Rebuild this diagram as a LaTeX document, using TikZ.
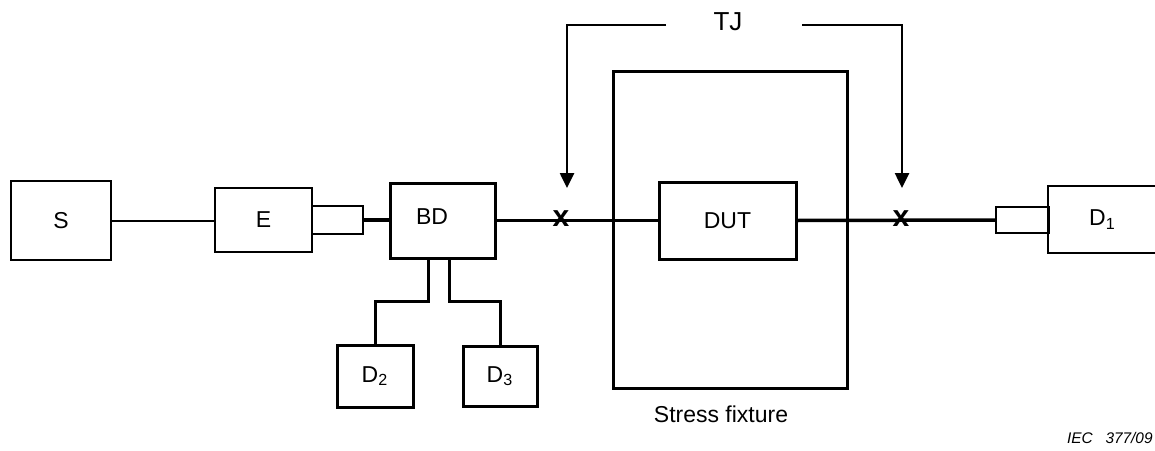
\documentclass[tikz,border=0pt]{standalone}
\usepackage{fontspec}
\setmainfont{Liberation Sans}
\usetikzlibrary{arrows.meta,calc}
\begin{document}
\begin{tikzpicture}[x=0.5pt,y=-0.5pt,
  sz/.style 2 args={minimum width=#1*0.5pt,minimum height=#2*0.5pt},
  box/.style={draw,line width=1.1pt,inner sep=0pt,outer sep=0pt,font=\fontsize{11.5}{13}\selectfont},
  heavybox/.style={box,line width=1.5pt},
  thickline/.style={line width=1.75pt},
  thinline/.style={line width=1pt},
  legline/.style={line width=1.5pt},
  bracket/.style={line width=1.3pt},
  tjarrow/.style={bracket,-{Triangle[width=7pt,length=7.5pt]}},
  xmark/.style={inner sep=0pt,font=\fontsize{15}{16}\bfseries\selectfont}
]
\useasboundingbox (0,0) rectangle (1155,450);

\node[box,sz={100}{79}] (S) at (61,220.5) {S};
\node[box,sz={97}{64}] (E) at (263.5,220) {E};
\node[box,sz={51}{28}] (cE) at (337.5,220) {};
\node[heavybox,sz={105}{75}] (BD) at (442.5,220.5) {};
\node[inner sep=0pt,font=\fontsize{11.5}{13}\selectfont] (BDl) at (432,217) {BD};
\node[heavybox,sz={76}{62}] (D2) at (375,376) {D\textsubscript{2}};
\node[heavybox,sz={74}{60}] (D3) at (500,376) {D\textsubscript{3}};
\node[heavybox,sz={234}{317}] (SF) at (730,229.5) {};
\node[heavybox,sz={137}{77}] (DUT) at (727.5,220.5) {DUT};
\node[box,sz={53}{26}] (cD) at (1022.5,220) {};
\node[box,sz={109}{67}] (D1) at (1102.5,219.5) {D\textsubscript{1}};

\node[font=\fontsize{11.5}{13}\selectfont,inner sep=0pt] (SFl) at (721,414) {Stress fixture};
\node[font=\fontsize{13}{15}\selectfont,inner sep=0pt] (TJ) at (728,22) {TJ};
\node[font=\fontsize{7.7}{9}\itshape\selectfont,inner sep=0pt,anchor=east] (IEC) at (1153,438) {IEC\ \ \ 377/09};

\node[xmark] (xL) at (561,219) {x};
\node[xmark] (xR) at (901,219) {x};

% connectors
\draw[thinline] (S.east) -- (S.east -| E.west);
\draw[thickline] (cE.east) -- (BD.west |- cE.east);
\draw[thickline] (BD.east |- DUT.west) -- (DUT.west);
\draw[thickline] (DUT.east) -- (cD.west);

% BD legs
\coordinate (legL) at ($(BD.south)+(-14.5,0)$);
\coordinate (legR) at ($(BD.south)+(6.5,0)$);
\draw[legline] (legL) -- ++(0,43) -| (D2.north);
\draw[legline] (legR) -- ++(0,43) -| (D3.north);

% TJ brackets
\coordinate (tjL) at (666,25);
\coordinate (tjR) at (802,25);
\coordinate (aL) at (567,188);
\coordinate (aR) at (902,188);
\draw[tjarrow] (tjL) -| (aL);
\draw[tjarrow] (tjR) -| (aR);
\end{tikzpicture}
\end{document}
